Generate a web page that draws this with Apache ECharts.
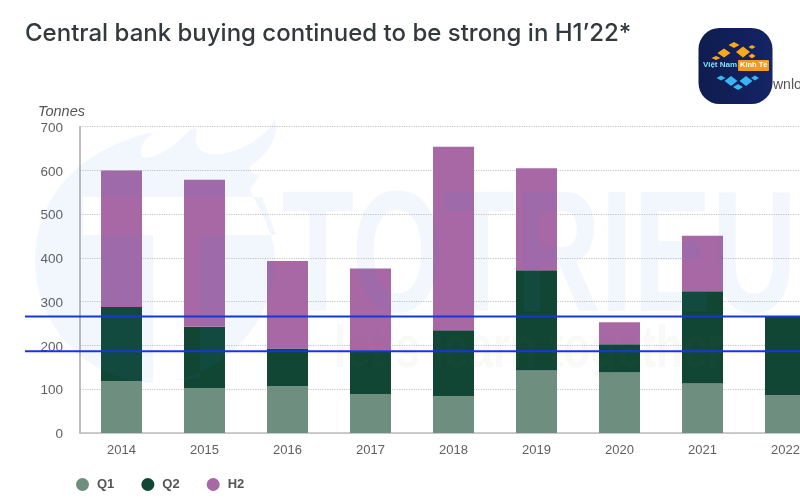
<!DOCTYPE html>
<html><head><meta charset="utf-8">
<style>html,body{margin:0;padding:0;background:#fff;overflow:hidden}#c{width:800px;height:500px;filter:blur(0.4px)}</style>
<script src="https://cdn.jsdelivr.net/npm/echarts@6/dist/echarts.min.js"></script>
</head><body><div id="c"></div>
<script>
const years = ['2014','2015','2016','2017','2018','2019','2020','2021','2022'];
const q1 = [118,102,107,89,84,143,138,113,86];
const q2 = [170,141,86,99,151,229,65,211,180];
const h2 = [312,336,200,188,419,233,50,127,null];
const seriesNames = ['Q1','Q2','H2'];
const seriesColors = ['#6E8F80','#114634','#A868A6'];
const yTicks = {min:0,max:700,interval:100};
const refLines = [266,187];
const titleText = 'Central bank buying continued to be strong in H1\u201922*';
const unitText = 'Tonnes';
const wmWords = ['TOTRIEU',"let's learn together"];

const chart = echarts.init(document.getElementById('c'),null,{renderer:'canvas'});
const wmFill = 'rgba(50,140,230,0.065)';
const diamond = (cx,cy,w,h,fill)=>({type:'polygon',silent:true,z:31,shape:{points:[[cx-w/2,cy],[cx,cy-h/2],[cx+w/2,cy],[cx,cy+h/2]]},style:{fill}});

const wmPath = 'M35 260 C35 205 70 160 127 140 C137 135 146 133 153 133 C143 140 138 150 142 157 C152 160 170 150 186 134 '+
 'C192 127 200 125 196 136 C194 150 205 156 222 154 C245 150 268 135 275 118 C280 135 268 155 250 166 C248 172 258 177 262 172 L250 190 C262 215 275 235 275 260 '+
 'C275 320 225 380 153 383 C85 380 35 325 35 260 Z '+
 'M83 197 L83 235 L153 235 L153 383 L200 378 L200 235 L276 235 L262 197 Z';
echarts.graphic.registerShape('wmLogoShape', echarts.graphic.extendPath(wmPath, {}));

const baseGraphic = [
 {type:'wmLogoShape',id:'wmLogo',silent:true,z:10,style:{fill:wmFill}},
 {type:'text',silent:true,z:10,x:282,y:178,scaleX:0.685,scaleY:1,style:{text:wmWords[0],fill:wmFill,font:'bold 172px "Liberation Sans"'}},
 {type:'text',silent:true,z:10,x:334,y:320,scaleX:0.73,scaleY:1,style:{text:wmWords[1],fill:'rgba(120,120,100,0.045)',font:'bold 60px "Liberation Sans"'}},
 {type:'rect',silent:true,z:30,shape:{x:698.5,y:28,width:74,height:76,r:21},style:{fill:new echarts.graphic.LinearGradient(0,0,1,0,[{offset:0,color:'#0E1C4E'},{offset:1,color:'#142466'}])}},
 diamond(724,53,13,9,'#F9A81A'),diamond(743,52,14,11,'#F9A81A'),diamond(734,45,11,6,'#F9A81A'),diamond(752,47,7,4,'#F9A81A'),diamond(716,58,9,4,'#F9A81A'),diamond(752,56,7,5,'#F9A81A'),
 diamond(731,81,13,10,'#38B6F2'),diamond(746,81,13,10,'#38B6F2'),diamond(738,87,10,6,'#38B6F2'),diamond(721,78,9,5,'#38B6F2'),diamond(755,78,8,5,'#38B6F2'),
 {type:'text',silent:true,z:32,x:703,y:61,style:{text:'Vi\u1EC7t Nam',fill:'#7fe0f5',font:'bold 8px "Liberation Sans"'}},
 {type:'rect',silent:true,z:32,shape:{x:738,y:60,width:31,height:11,r:1},style:{fill:'#F39A1C'}},
 {type:'text',silent:true,z:33,x:740,y:61,style:{text:'Kinh T\u1EBF',fill:'#fff',font:'bold 7.5px "Liberation Sans"'}},
 {type:'text',silent:true,z:29,x:773,y:78,style:{text:'wnlo',fill:'#555',font:'14px "Liberation Sans"'}}
];

const option = {
 animation:false,
 backgroundColor:'#fff',
 textStyle:{fontFamily:'"Liberation Sans",sans-serif'},
 title:{text:titleText,left:20,top:17,textStyle:{fontFamily:'Inter',fontWeight:500,fontSize:24,color:'#33393c'}},
 legend:{data:seriesNames,left:71,top:473,icon:'circle',itemWidth:13,itemHeight:13,itemGap:27,
   textStyle:{color:'#555',fontSize:13,fontWeight:'bold',padding:[0,0,0,3]}},
 grid:{left:80,top:126.7,width:747,height:306.3,outerBoundsMode:'none'},
 xAxis:{type:'category',data:years,
   axisLine:{show:true,lineStyle:{color:'#bdbdbd',width:1.5}},axisTick:{show:false},
   axisLabel:{color:'#606060',fontSize:13,margin:11}},
 yAxis:{type:'value',min:yTicks.min,max:yTicks.max,interval:yTicks.interval,
   name:unitText,nameLocation:'end',nameGap:7,
   nameTextStyle:{fontStyle:'italic',fontSize:14.5,color:'#555',align:'right',padding:[0,-5,0,0]},
   axisLine:{show:true,lineStyle:{color:'#a8a8a8',width:1.5}},axisTick:{show:false},
   axisLabel:{color:'#606060',fontSize:13.5,margin:17,verticalAlign:'top',lineHeight:3},
   splitLine:{lineStyle:{color:'#c6c6c6',type:'dotted',width:1.2}}},
 series:[q1,q2,h2].map((d,i)=>({name:seriesNames[i],type:'bar',stack:'t',data:d,barWidth:41,
   itemStyle:{color:seriesColors[i]}})),
 graphic:baseGraphic
};
chart.setOption(option);
const lineG = refLines.map(v=>{
  const y = chart.convertToPixel({yAxisIndex:0},v);
  return {type:'line',silent:true,z:20,shape:{x1:25,y1:y,x2:800,y2:y},style:{stroke:'#1438D8',lineWidth:2}};
});
chart.setOption({graphic:baseGraphic.concat(lineG)});
</script></body></html>
